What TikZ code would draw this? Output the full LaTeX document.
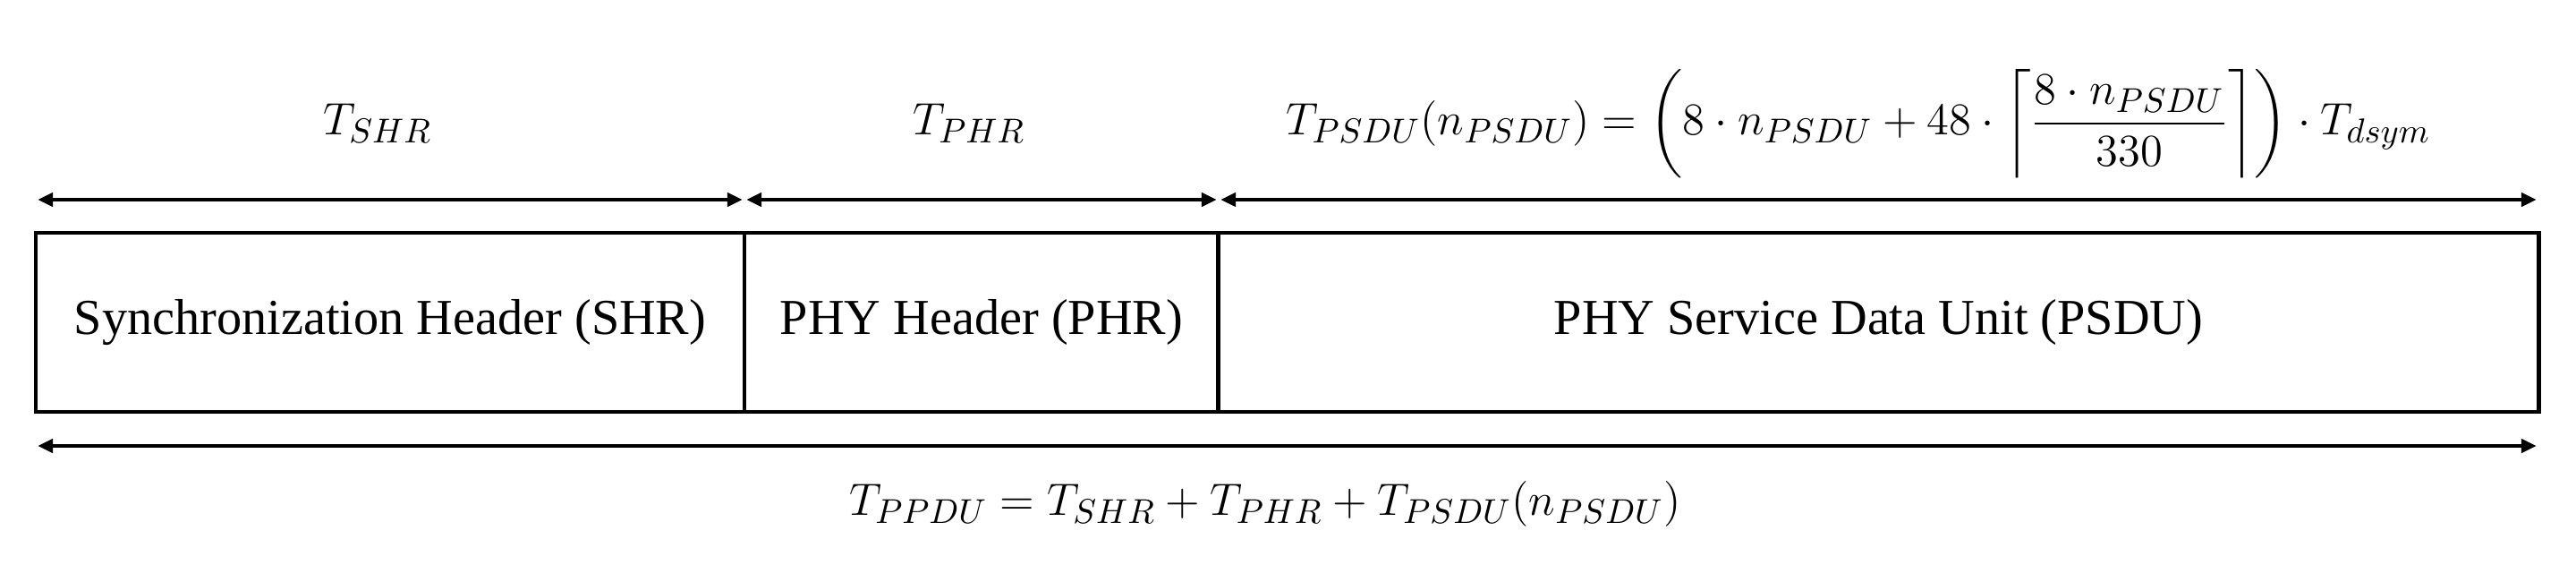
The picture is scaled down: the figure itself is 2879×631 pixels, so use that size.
\documentclass[tikz,border=0pt]{standalone}
\usepackage{amsmath}
\usepackage{fontspec}
\setmainfont{Liberation Serif}
\usetikzlibrary{arrows.meta}
\begin{document}
\begin{tikzpicture}[x=0.01cm,y=-0.01cm,
  box/.style={draw,line width=1.2pt,minimum height=2cm,inner sep=0pt,font=\fontsize{16}{19}\selectfont},
  dim/.style={line width=1.2pt,{Triangle[length=1.7mm,width=1.5mm]}-{Triangle[length=1.7mm,width=1.5mm]},shorten <=0.6pt,shorten >=0.6pt},
  lab/.style={font=\fontsize{15.5}{19}\selectfont}]
\useasboundingbox (0,0) rectangle (2879,631);
\node[box,minimum width=7.92cm] (shr) at (436,360) {Synchronization Header (SHR)};
\node[box,minimum width=5.30cm] (phr) at (1097,360) {PHY Header (PHR)};
\node[box,minimum width=14.75cm] (psdu) at (2099.5,360) {PHY Service Data Unit (PSDU)};
\coordinate (a0) at (40,223);
\coordinate (a1) at (832,223);
\coordinate (a2) at (1362,223);
\coordinate (a3) at (2837,223);
\coordinate (b0) at (40,498);
\coordinate (b1) at (2837,498);
\draw[dim] (a0) -- (a1);
\draw[dim] (a1) -- (a2);
\draw[dim] (a2) -- (a3);
\draw[dim] (b0) -- (b1);
\node[lab] (tshr) at (422,138) {$T_{SHR}$};
\node[lab] (tphr) at (1083,138) {$T_{PHR}$};
\node[lab] (tpsdu) at (2077,138) {$T_{PSDU}(n_{PSDU}) = \left(8\cdot n_{PSDU} + 48\cdot\left\lceil\dfrac{8\cdot n_{PSDU}}{330}\right\rceil\right)\cdot T_{dsym}$};
\node[lab] (tppdu) at (1414,563) {$T_{PPDU} = T_{SHR} + T_{PHR} + T_{PSDU}(n_{PSDU})$};
\end{tikzpicture}
\end{document}
